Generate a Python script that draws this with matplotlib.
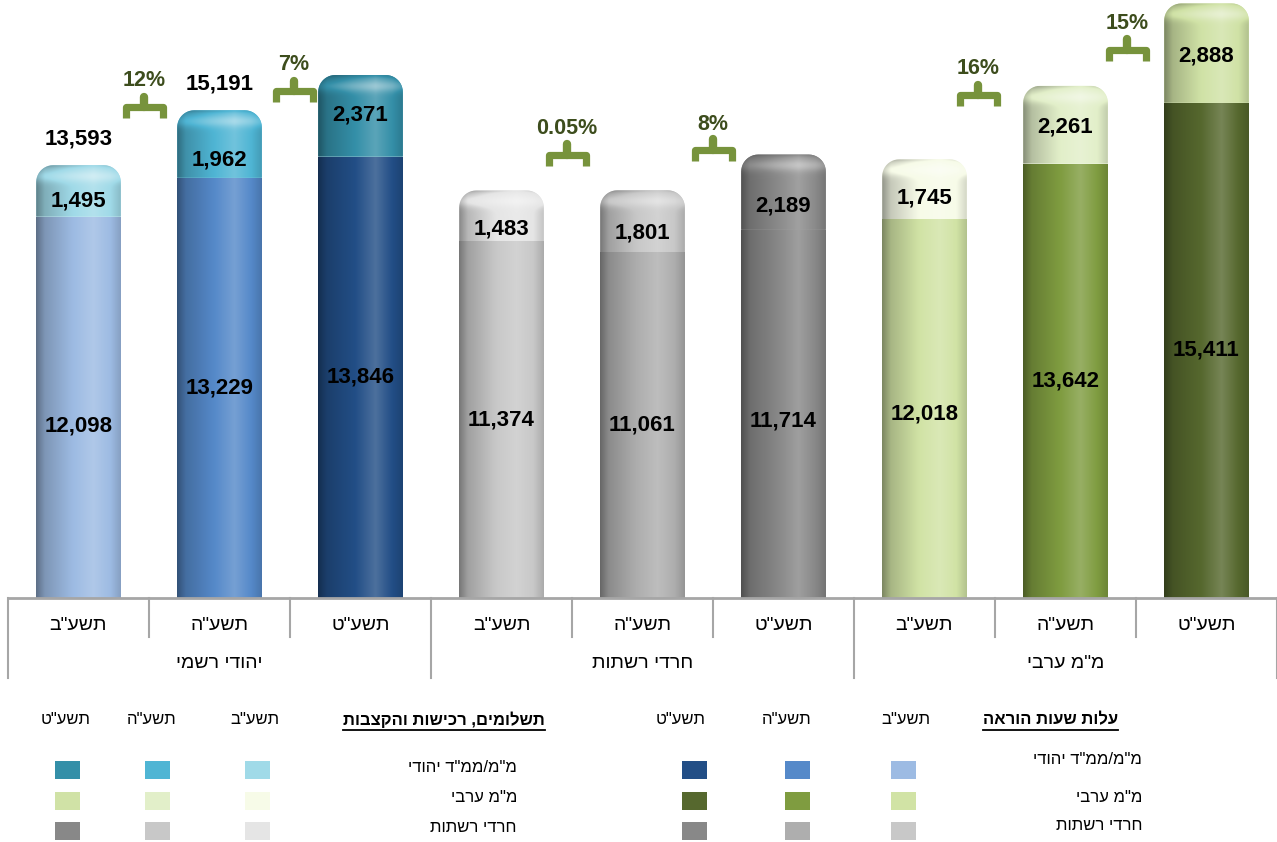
import numpy as np
import matplotlib
matplotlib.use("Agg")
import matplotlib.pyplot as plt
from matplotlib.path import Path
from matplotlib.patches import PathPatch, Rectangle
from matplotlib.colors import to_rgb

plt.rcParams['font.family'] = ['Liberation Sans', 'DejaVu Sans']

# ---------------- data ----------------
years = ['תשע"ב', 'תשע"ה', 'תשע"ט']
groups = ['יהודי רשמי', 'חרדי רשתות', 'מ"מ ערבי']
hours_cost = [12098, 13229, 13846, 11374, 11061, 11714, 12018, 13642, 15411]
payments = [1495, 1962, 2371, 1483, 1801, 2189, 1745, 2261, 2888]
total_label_bars = [0, 1]
pct_pairs = [(0, 1), (1, 2), (3, 4), (4, 5), (6, 7), (7, 8)]
pct_labels = ['12%', '7%', '0.05%', '8%', '16%', '15%']

legend_rows = ['מ"מ/ממ"ד יהודי', 'מ"מ ערבי', 'חרדי רשתות']
legend_title_hours = 'עלות שעות הוראה'
legend_title_pay = 'תשלומים, רכישות והקצבות'

# colours per bar (bottom = hours, top = payments)
hours_colors = ['#9DBBE3', '#5589C9', '#224E86',
                '#C8C8C8', '#AEAEAE', '#888888',
                '#D1E3A5', '#7F9C40', '#56682E']
pay_colors = ['#A0DAE8', '#4FB5D4', '#348FA8',
              '#E5E5E5', '#C8C8C8', '#8A8A8A',
              '#F7FBE8', '#E2EFC9', '#D0E2A6']
# legend colours (rows: jewish, arab, haredi ; cols: years)
leg_hours = [['#9DBBE3', '#5589C9', '#224E86'],
             ['#D1E3A5', '#7F9C40', '#56682E'],
             ['#C8C8C8', '#AEAEAE', '#888888']]
leg_pay = [['#A0DAE8', '#4FB5D4', '#348FA8'],
           ['#F7FBE8', '#E2EFC9', '#D0E2A6'],
           ['#E5E5E5', '#C8C8C8', '#888888']]


def vis(s):
    """visual (left-to-right) order for Hebrew text"""
    return s[::-1]


# ---------------- layout ----------------
W, H, DPI = 1277, 842, 100
BASE_PX, LEFT_PX = 598, 8
Y_BOT, Y_TOP = 1000, 18400
fig = plt.figure(figsize=(W / DPI, H / DPI), dpi=DPI)
ax = fig.add_axes([LEFT_PX / W, (H - BASE_PX) / H, (W - LEFT_PX) / W, BASE_PX / H])
ax.set_xlim(-0.5, 8.5)
ax.set_ylim(Y_BOT, Y_TOP)
ax.set_autoscale_on(False)
ax.axis('off')
UPP = (Y_TOP - Y_BOT) / BASE_PX   # data units per pixel (y)
XPP = 9.0 / (W - LEFT_PX)         # data units per pixel (x)


def px2y(ypx):
    return Y_BOT + (BASE_PX - ypx) * UPP


# label nudges in pixels (positive = downwards), layout only
HOURS_LBL_DY = [19, 0, 0, 0, 0, 7, 5, 0, 0]
PAY_LBL_DY = [10, 16, -1, 13, 12, 14, 9, 2, 3]

x = np.arange(len(hours_cost))
BW = 0.6


def shade_img(color, ny, top=None, y0=None, y1=None):
    nx = 80
    base = np.array(to_rgb(color))
    t = np.linspace(0, 1, nx)
    s = np.interp(t, [0, 0.1, 0.4, 0.68, 0.88, 1.0],
                  [0.6, 0.8, 0.98, 1.12, 1.0, 0.86])
    img = np.zeros((ny, nx, 3))
    for j in range(ny):
        sj = s.copy()
        if top is not None:
            yrow = y1 - (j + 0.5) / ny * (y1 - y0)
            d = (y1 - yrow) / UPP
            sj = sj + 0.2 * np.exp(-((d - 11) / 6.0) ** 2) - 0.12 * np.exp(-(d / 2.5) ** 2)
        for k in range(nx):
            v = sj[k]
            if v <= 1:
                img[j, k] = base * v
            else:
                img[j, k] = base + (1 - base) * min(1.0, (v - 1) * 1.6)
    return np.clip(img, 0, 1)


def rounded_top_path(x0, x1, y0, y1, r_px=17):
    rx, ry = r_px * XPP, r_px * UPP
    verts = [(x0, y0), (x1, y0), (x1, y1 - ry)]
    for a in np.linspace(0, np.pi / 2, 12):
        verts.append((x1 - rx + rx * np.cos(a), y1 - ry + ry * np.sin(a)))
    for a in np.linspace(np.pi / 2, np.pi, 12):
        verts.append((x0 + rx + rx * np.cos(a), y1 - ry + ry * np.sin(a)))
    verts.append((x0, y0))
    codes = [Path.MOVETO] + [Path.LINETO] * (len(verts) - 2) + [Path.CLOSEPOLY]
    return Path(verts, codes)


bottom_bars = ax.bar(x, hours_cost, width=BW, color=hours_colors, zorder=1)
for i, b in enumerate(bottom_bars):
    x0, x1 = b.get_x(), b.get_x() + b.get_width()
    img = shade_img(hours_colors[i], 2)
    im = ax.imshow(img, extent=[x0, x1, Y_BOT, hours_cost[i]], aspect='auto',
                   origin='upper', interpolation='bilinear', zorder=2)
    im.set_clip_path(b)

for i in range(len(x)):
    x0, x1 = x[i] - BW / 2, x[i] + BW / 2
    y0, y1 = hours_cost[i], hours_cost[i] + payments[i]
    p = PathPatch(rounded_top_path(x0, x1, y0, y1), facecolor=pay_colors[i],
                  edgecolor='none', zorder=1)
    ax.add_patch(p)
    img = shade_img(pay_colors[i], 120, top=True, y0=y0, y1=y1)
    im = ax.imshow(img, extent=[x0, x1, y0, y1], aspect='auto', origin='upper',
                   interpolation='bilinear', zorder=2)
    im.set_clip_path(p)

# value labels
for i in range(len(x)):
    ax.text(x[i], (Y_BOT + hours_cost[i]) / 2 - HOURS_LBL_DY[i] * UPP,
            f'{hours_cost[i]:,}', ha='center', va='center', fontsize=16,
            fontweight='bold', color='black', zorder=5)
    ax.text(x[i], hours_cost[i] + payments[i] / 2 - PAY_LBL_DY[i] * UPP,
            f'{payments[i]:,}', ha='center', va='center', fontsize=16,
            fontweight='bold', color='black', zorder=5)
for i in total_label_bars:
    tot = hours_cost[i] + payments[i]
    ax.text(x[i], tot + 26 * UPP, f'{tot:,}', ha='center', va='center',
            fontsize=16, fontweight='bold', color='black', zorder=5)

# growth brackets
BR_COLOR = '#77933C'
BR_PX = [107, 91, 155, 150, 95, 50]    # vertical position of brackets (pixels from top)
BR_DX = [-5, 4, -5, 0, -17, -9]        # horizontal nudge of brackets (pixels)
for (a, b), lab, ypx, dx in zip(pct_pairs, pct_labels, BR_PX, BR_DX):
    xc = (x[a] + x[b]) / 2 + dx * XPP
    yb = px2y(ypx)
    hw = 18.5 * XPP
    ax.plot([xc - hw, xc - hw, xc + hw, xc + hw],
            [yb - 11.5 * UPP, yb, yb, yb - 11.5 * UPP], color=BR_COLOR, lw=5.2,
            solid_joinstyle='round', solid_capstyle='butt', zorder=4)
    ax.plot([xc, xc], [yb, yb + 10.5 * UPP], color=BR_COLOR, lw=6,
            solid_capstyle='round', zorder=4)
    ax.text(xc, yb + 26 * UPP, lab, ha='center', va='center', fontsize=15.5,
            fontweight='bold', color='#3D4D1D', zorder=5)

# category axis table
tr = ax.get_xaxis_transform()
GRAY = '#A6A6A6'
ax.plot([-0.5, 8.5], [0, 0], color=GRAY, lw=2, transform=tr, clip_on=False)
for k in range(10):
    xs = k - 0.5
    long = (k % 3 == 0)
    depth = (80 if long else 39) / BASE_PX
    ax.plot([xs, xs], [0, -depth], color=GRAY, lw=1.5, transform=tr, clip_on=False)
for i in range(len(x)):
    ax.text(x[i], -28 / BASE_PX, vis(years[i % 3]), ha='center', va='center',
            fontsize=14, transform=tr, clip_on=False)
for g in range(3):
    ax.text(3 * g + 1, -66 / BASE_PX, vis(groups[g]), ha='center', va='center',
            fontsize=14, transform=tr, clip_on=False)

# ---------------- legends (pixel coordinates) ----------------
lax = fig.add_axes([0, 0, 1, 1], zorder=-1)
lax.set_xlim(0, W)
lax.set_ylim(H, 0)
lax.axis('off')

SQ_Y = [770, 801, 831]


def legend_block(title, title_right, hdr_x, sq_x, lbl_right, lbl_y, colors):
    t = lax.text(title_right, 720, vis(title), ha='right', va='center',
                 fontsize=12, fontweight='bold')
    for yi, yl in enumerate(years):
        lax.text(hdr_x[yi], 720, vis(yl), ha='center', va='center', fontsize=12)
    for r, lab in enumerate(legend_rows):
        lax.text(lbl_right, lbl_y[r], vis(lab), ha='right', va='center', fontsize=12)
        for yi in range(3):
            lax.add_patch(Rectangle((sq_x[yi] - 12.5, SQ_Y[r] - 9), 25, 18,
                                    facecolor=colors[r][yi], edgecolor='none'))
    return t


t1 = legend_block(legend_title_pay, 545, [255, 152, 66], [257, 157, 67], 517,
                  [767, 797, 828], leg_pay)
t2 = legend_block(legend_title_hours, 1118, [906, 787, 681], [903, 797, 694], 1142,
                  [760, 797, 826], leg_hours)

fig.canvas.draw()
inv = lax.transData.inverted()
for t in (t1, t2):
    bb = t.get_window_extent()
    (xa, ya), (xb, yb_) = inv.transform([[bb.x0, bb.y0], [bb.x1, bb.y1]])
    lax.plot([xa, xb], [ya + 2, ya + 2], color='black', lw=1.3)

fig.savefig('out.png', dpi=DPI)
